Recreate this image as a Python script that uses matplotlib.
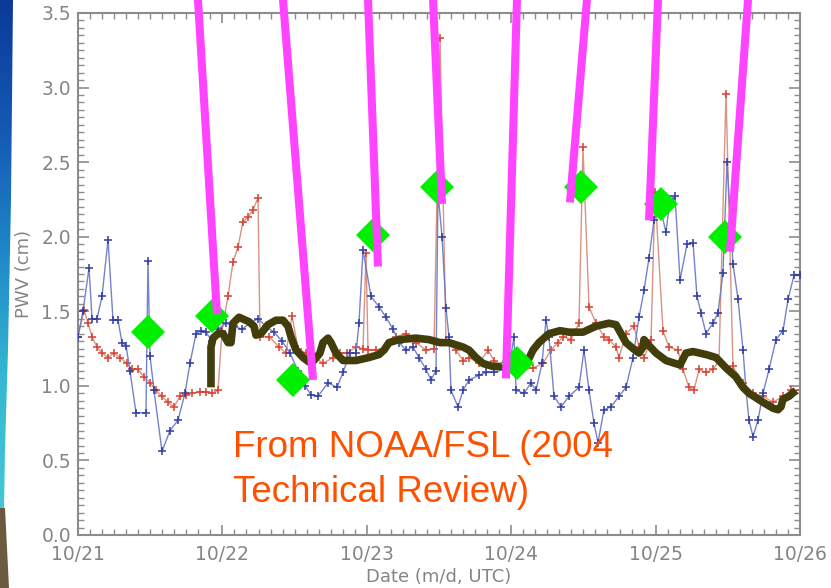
import numpy as np
import matplotlib.pyplot as plt
from matplotlib.patches import Polygon
from matplotlib.ticker import MultipleLocator

# time axis: hours since 10/21 00 UTC, PWV in cm
blue_hr = [0.0, 0.83, 1.83, 2.33, 3.16, 3.99, 4.99, 5.82, 6.65, 7.31, 7.98, 8.64, 9.64,
           11.30, 11.63, 11.97, 12.63, 13.96, 15.29, 16.62, 17.78, 18.61, 19.61, 20.44,
           21.27, 22.27, 23.27, 24.60, 25.93, 27.26, 28.59, 29.92, 31.25, 32.58, 33.91,
           35.24, 36.57, 37.73, 38.73, 39.89, 41.55, 43.05, 44.04, 45.21, 46.21, 46.70,
           47.37, 48.70, 50.03, 51.19, 52.36, 53.35, 54.51, 55.68, 56.67, 57.84, 58.67,
           59.50, 59.83, 60.50, 61.16, 61.66, 61.99, 63.16, 63.99, 64.99, 66.65, 67.81,
           69.14, 70.64, 71.63, 72.46, 72.80, 74.13, 75.29, 76.12, 77.12, 77.78, 78.28,
           79.11, 80.28, 81.61, 83.27, 84.10, 84.93, 85.76, 86.43, 87.42, 88.59, 89.92,
           91.08, 92.25, 93.25, 94.07, 94.91, 95.74, 96.73, 97.73, 98.40, 99.23, 100.06,
           101.22, 102.22, 102.88, 103.55, 104.38, 105.54, 106.37, 107.20, 107.87, 108.86,
           109.70, 110.53, 111.03, 111.52, 112.19, 113.02, 113.85, 114.85, 116.01, 117.18,
           118.01, 119.00, 120.0]
blue_pwv = [1.33, 1.50, 1.79, 1.45, 1.45, 1.60, 1.98, 1.44, 1.44, 1.29, 1.27, 1.10, 0.82,
            0.82, 1.84, 1.20, 0.97, 0.56, 0.70, 0.77, 0.95, 1.15, 1.35, 1.37,
            1.36, 1.30, 1.38, 1.42, 1.40, 1.38, 1.42, 1.45, 1.40, 1.36, 1.30,
            1.22, 1.10, 1.00, 0.94, 0.93, 1.02, 0.99, 1.09, 1.22, 1.22, 1.42,
            1.91, 1.60, 1.53, 1.46, 1.38, 1.29, 1.24, 1.26, 1.19, 1.11, 1.04,
            1.10, 2.30, 2.00, 1.52, 1.33, 0.97, 0.86, 0.97, 1.04, 1.07, 1.09,
            1.09, 1.11, 1.12, 1.33, 0.97, 0.95, 1.02, 0.97, 1.15, 1.44, 1.33,
            0.93, 0.86, 0.93, 0.99, 1.24, 0.97, 0.75, 0.62, 0.84, 0.86, 0.93,
            0.99, 1.19, 1.46, 1.64, 1.86, 2.11, 2.20, 2.03, 2.25, 2.27, 1.71,
            1.95, 1.96, 1.60, 1.49, 1.35, 1.42, 1.49, 1.76, 2.50, 1.82,
            1.58, 1.24, 0.97, 0.77, 0.66, 0.77, 0.95, 1.11, 1.31, 1.37,
            1.58, 1.74, 1.74]

red_hr = [0.0, 1.0, 1.66, 2.33, 3.16, 3.99, 4.99, 5.98, 6.98, 8.14, 8.98, 9.97, 10.97,
          11.97, 12.96, 13.96, 14.96, 15.96, 16.95, 17.95, 18.95, 20.28, 21.27, 22.27,
          23.27, 23.93, 24.93, 25.76, 26.59, 27.42, 28.25, 29.08, 29.92, 30.25, 31.74,
          33.41, 34.57, 35.57, 36.57, 37.89, 39.22, 40.72, 42.38, 43.55, 44.71, 46.21,
          47.37, 47.87, 48.20, 49.53, 51.19, 52.85, 54.51, 56.18, 57.84, 59.17, 60.17,
          61.16, 62.83, 63.99, 64.99, 66.65, 68.14, 69.14, 70.64, 72.30, 73.96, 75.62,
          77.28, 78.61, 79.78, 80.61, 81.94, 83.27, 83.93, 84.93, 86.09, 87.42, 88.25,
          89.42, 89.92, 91.08, 92.41, 93.25, 94.07, 95.24, 95.90, 97.23, 98.23, 99.72,
          100.55, 101.55, 102.38, 103.21, 104.38, 105.54, 106.54, 107.70, 108.86, 110.53,
          112.19, 113.85, 115.51, 117.18, 118.50, 120.0]
red_pwv = [1.33, 1.51, 1.42, 1.33, 1.26, 1.22, 1.19, 1.22, 1.19, 1.15, 1.11, 1.11, 1.06,
           1.02, 0.97, 0.93, 0.89, 0.86, 0.93, 0.94, 0.95, 0.96, 0.96, 0.95,
           0.97, 1.37, 1.60, 1.83, 1.93, 2.10, 2.13, 2.18, 2.26, 1.33, 1.33,
           1.26, 1.22, 1.47, 1.25, 1.22, 1.20, 1.15, 1.19, 1.22, 1.22, 1.26,
           1.25, 1.89, 1.24, 1.24, 1.26, 1.33, 1.35, 1.29, 1.24, 1.25, 3.33,
           1.30, 1.24, 1.17, 1.19, 1.15, 1.24, 1.17, 1.11, 1.13, 1.11, 1.12,
           1.15, 1.24, 1.29, 1.33, 1.31, 1.42, 2.60, 1.53, 1.42, 1.33, 1.31,
           1.26, 1.19, 1.35, 1.40, 1.26, 1.19, 1.31, 2.30, 1.37, 1.26, 1.24,
           1.11, 0.99, 0.97, 1.11, 1.09, 1.11, 1.17, 2.96, 1.13, 1.02,
           0.95, 0.93, 0.89, 0.93, 0.97, 0.97]

model_hr = [22.1, 22.1, 22.44, 23.27, 24.1, 24.93, 25.43, 25.76, 26.76, 28.42, 29.25, 29.58,
            30.41, 31.58, 32.91, 34.07, 34.9, 35.4, 36.23, 37.4, 38.39, 39.22, 40.22, 40.72,
            41.55, 42.05, 42.88, 44.04, 46.2, 48.36, 50.03, 50.86, 51.69, 53.35, 56.18,
            58.34, 60.16, 61.66, 63.99, 64.98, 66.15, 67.31, 68.97, 70.64, 72.3, 73.46,
            74.79, 75.62, 76.62, 78.28, 80.11, 81.6, 83.93, 86.09, 88.25, 89.42, 90.25,
            91.08, 92.25, 93.24, 93.9, 94.07, 94.9, 96.07, 97.73, 100.05, 101.05, 102.21,
            104.37, 106.04, 107.7, 109.36, 110.52, 111.52, 113.85, 115.51, 116.34, 116.84,
            117.17, 118.17, 119.33]
model_pwv = [0.99, 1.26, 1.32, 1.35, 1.35, 1.29, 1.29, 1.42, 1.46, 1.43, 1.40, 1.34,
             1.35, 1.41, 1.44, 1.44, 1.40, 1.33, 1.24, 1.19, 1.16, 1.17, 1.22, 1.29,
             1.32, 1.29, 1.22, 1.17, 1.17, 1.19, 1.21, 1.24, 1.29, 1.31, 1.32,
             1.31, 1.29, 1.29, 1.26, 1.24, 1.19, 1.15, 1.13, 1.13, 1.12, 1.13,
             1.17, 1.24, 1.29, 1.35, 1.37, 1.36, 1.36, 1.40, 1.42, 1.41, 1.35,
             1.29, 1.25, 1.22, 1.26, 1.31, 1.27, 1.22, 1.17, 1.14, 1.22, 1.23,
             1.21, 1.19, 1.12, 1.06, 0.99, 0.95, 0.89, 0.85, 0.84, 0.86,
             0.91, 0.93, 0.97]

diamond_hr = [11.63, 22.27, 35.73, 49.03, 59.67, 72.96, 83.6, 96.9, 107.53]
diamond_pwv = [1.36, 1.47, 1.04, 2.01, 2.33, 1.15, 2.33, 2.22, 2.00]

pointer_top_hr = [19.94, 34.07, 48.2, 59.01, 72.96, 84.59, 96.4, 111.36]
pointer_end_hr = [23.1, 39.06, 49.86, 60.5, 71.13, 81.77, 94.91, 108.37]
pointer_end_pwv = [1.48, 1.04, 1.80, 2.22, 1.05, 2.23, 2.11, 1.90]
pointer_top_pwv = 3.59

day_labels = ['10/21', '10/22', '10/23', '10/24', '10/25', '10/26']

W, H = 831, 588
fig = plt.figure(figsize=(W / 100, H / 100), dpi=100)

# slide background strip on the left edge
bg = fig.add_axes([0, 0, 1, 1], zorder=-5)
bg.set_xlim(0, W)
bg.set_ylim(H, 0)
bg.axis('off')
grad = np.linspace(0, 1, 256).reshape(-1, 1)
cmap = plt.matplotlib.colors.LinearSegmentedColormap.from_list(
    'strip', ['#0b3a98', '#1458b4', '#1f88c8', '#36b8d2', '#42c8d4'])
im = bg.imshow(grad, cmap=cmap, extent=[0, 14, 508, 0], aspect='auto')
blue_poly = Polygon([(0, 0), (13, 0), (11, 200), (8, 350), (5, 450), (4, 508), (0, 508)],
                    closed=True, transform=bg.transData)
im.set_clip_path(blue_poly)
bg.add_patch(Polygon([(0, 508), (5, 508), (9, 588), (0, 588)], closed=True,
                     facecolor='#6b5a40', edgecolor='none'))

ax = fig.add_axes([78 / W, (H - 535) / H, 722 / W, 522 / H])

ax.plot(red_hr, red_pwv, color='#d48878', lw=1.0, marker='+', ms=6, mew=1.2,
        mec='#d63a28', alpha=0.9, zorder=2)
ax.plot(blue_hr, blue_pwv, color='#6676c2', lw=1.0, marker='+', ms=6, mew=1.2,
        mec='#2a36a0', alpha=0.9, zorder=3)
ax.plot(model_hr, model_pwv, color='#423e0c', lw=5.5, solid_capstyle='butt',
        solid_joinstyle='round', zorder=4)
ax.plot(diamond_hr, diamond_pwv, ls='none', marker='D', ms=17, mew=0,
        color='#00f000', zorder=5)
for t0, t1, v1 in zip(pointer_top_hr, pointer_end_hr, pointer_end_pwv):
    ax.plot([t0, t1], [pointer_top_pwv, v1], color='#ff44ff', lw=5.8,
            solid_capstyle='butt', clip_on=False, zorder=6)

ax.set_xlim(0, 120)
ax.set_ylim(0, 3.5)
ax.set_xticks(np.arange(0, 121, 24))
ax.set_xticklabels(day_labels)
ax.xaxis.set_minor_locator(MultipleLocator(2))
ax.yaxis.set_major_locator(MultipleLocator(0.5))
ax.yaxis.set_minor_locator(MultipleLocator(0.05))
ax.yaxis.set_major_formatter(plt.FuncFormatter(lambda v, p: f'{v:.1f}'))

grey = '#858585'
for s in ax.spines.values():
    s.set_color('#8c8c8c')
    s.set_linewidth(1.5)
ax.tick_params(which='both', direction='in', top=True, right=True, colors='#8c8c8c',
               labelcolor=grey, labelsize=13.5)
ax.tick_params(axis='x', which='major', length=7, width=1.2, pad=7)
ax.tick_params(axis='y', which='major', length=8, width=1.2, pad=5)
ax.tick_params(which='minor', length=4, width=1.0)

ax.set_xlabel('Date (m/d, UTC)', color=grey, fontsize=13)
ax.xaxis.set_label_coords(0.5, -0.064)
ax.set_ylabel('PWV (cm)', color=grey, fontsize=13)
ax.yaxis.set_label_coords(-0.062, 0.5)

ax.text(0.2147, 0.1494, 'From NOAA/FSL (2004', transform=ax.transAxes,
        fontsize=26.5, color='#ff5000', family='Liberation Sans', va='baseline', zorder=7)
ax.text(0.2147, 0.0632, 'Technical Review)', transform=ax.transAxes,
        fontsize=26.5, color='#ff5000', family='Liberation Sans', va='baseline', zorder=7)

fig.savefig('out.png', dpi=100)
